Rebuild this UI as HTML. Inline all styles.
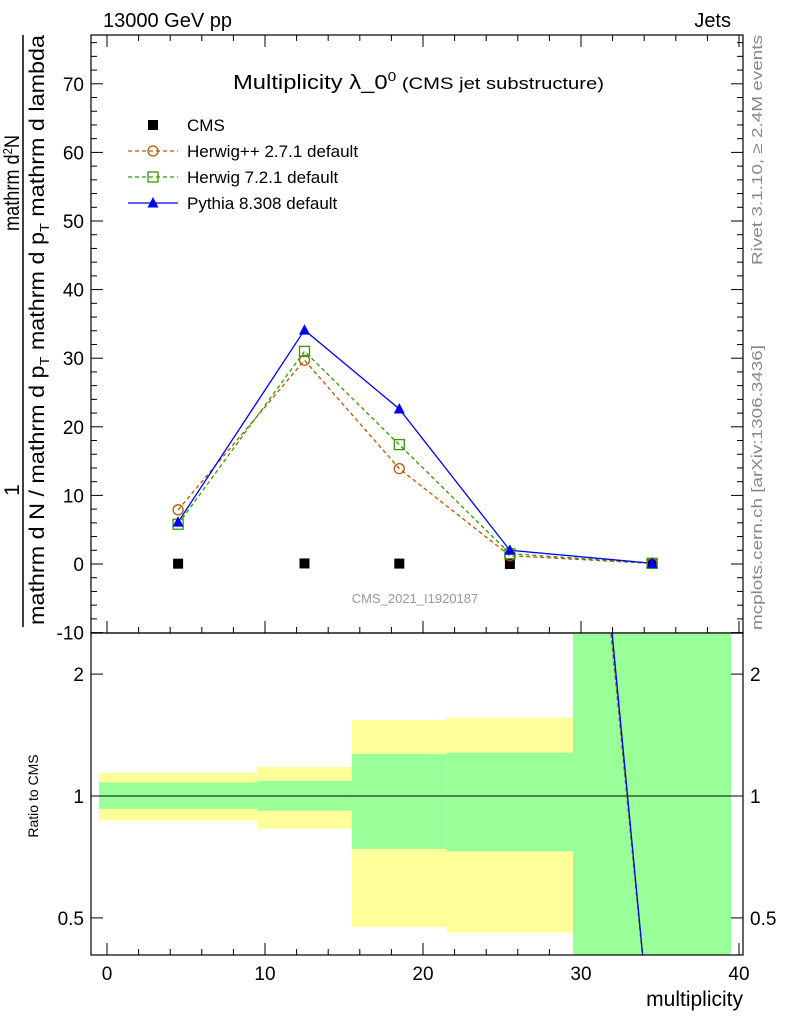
<!DOCTYPE html>
<html><head><meta charset="utf-8"><style>
html,body{margin:0;padding:0;background:#fff;overflow:hidden;}
svg{display:block;font-family:"Liberation Sans",sans-serif;}
</style></head><body>
<svg id="chart" width="786" height="1024" viewBox="0 0 786 1024" xmlns="http://www.w3.org/2000/svg">
<defs>
<clipPath id="cm"><rect x="91" y="35" width="652" height="598"/></clipPath>
<clipPath id="cr"><rect x="91" y="633" width="652" height="322"/></clipPath>
</defs>
<text x="103" y="27" font-size="20">13000 GeV pp</text>
<text x="731" y="27" font-size="20" text-anchor="end">Jets</text>
<g id="main"></g>
<g id="ratio"></g>
<text x="233" y="89" font-size="20" textLength="371" lengthAdjust="spacingAndGlyphs">Multiplicity λ_0<tspan font-size="13" dy="-8">0</tspan><tspan font-size="17" dy="8"> (CMS jet substructure)</tspan></text>
<text x="415" y="603" font-size="13" fill="#999" text-anchor="middle">CMS_2021_I1920187</text>
<g>
<text transform="translate(19,490) rotate(-90)" font-size="21" text-anchor="middle">1</text>
<text transform="translate(19,183) rotate(-90)" font-size="21" text-anchor="middle" textLength="96" lengthAdjust="spacingAndGlyphs">mathrm d<tspan font-size="13" dy="-7">2</tspan><tspan dy="7">N</tspan></text>
<line x1="23" y1="35" x2="23" y2="627" stroke="#000" stroke-width="1.5"/>
<text transform="translate(44,625) rotate(-90)" font-size="21" textLength="590" lengthAdjust="spacingAndGlyphs">mathrm d N / mathrm d p<tspan font-size="13" dy="5">T</tspan><tspan dy="-5"> mathrm d p</tspan><tspan font-size="13" dy="5">T</tspan><tspan dy="-5"> mathrm d lambda</tspan></text>
</g>
<text transform="translate(38,796) rotate(-90)" font-size="14" text-anchor="middle">Ratio to CMS</text>
<text x="743" y="1006" font-size="21" text-anchor="end">multiplicity</text>
<text transform="translate(762,265) rotate(-90)" font-size="15" fill="#888" textLength="230" lengthAdjust="spacingAndGlyphs">Rivet 3.1.10, ≥ 2.4M events</text>
<text transform="translate(762,630) rotate(-90)" font-size="15" fill="#888" textLength="285" lengthAdjust="spacingAndGlyphs">mcplots.cern.ch [arXiv:1306.3436]</text>
<script>
const binCenters=[4.5,12.5,18.5,25.5,34.5];
const binEdges=[-0.5,9.5,15.5,21.5,29.5,39.5];
const cmsVals=[0.05,0.08,0.06,0.002,0.05];
const herwigPPVals=[7.9,29.7,13.9,1.2,0.1];
const herwig7Vals=[5.8,31.0,17.4,1.5,0.1];
const pythiaVals=[6.1,34.1,22.6,2.0,0.1];
const herwigPPRatio=[160,380,230,900,0.23];
const herwig7Ratio=[120,390,290,1000,0.23];
const pythiaRatio=[125,430,380,1150,0.23];
const totLo=[0.87,0.83,0.475,0.46,0.1];
const totHi=[1.14,1.18,1.54,1.56,10];
const statLo=[0.93,0.92,0.74,0.73,0.1];
const statHi=[1.08,1.09,1.27,1.28,10];
const yTicks=[-10,0,10,20,30,40,50,60,70];
const xTicks=[0,10,20,30,40];
const rTicks=[0.5,1,2];

const NS="http://www.w3.org/2000/svg";
const X=v=>107+v*15.8;
const Y=v=>564-v*6.86;
const R=v=>796-Math.log10(v)*405;
function mk(tag,attrs,parent){const e=document.createElementNS(NS,tag);for(const k in attrs)e.setAttribute(k,attrs[k]);parent.appendChild(e);return e;}
const main=document.getElementById('main'), ratio=document.getElementById('ratio');

const bands=mk('g',{'clip-path':'url(#cr)'},ratio);
for(let i=0;i<5;i++){
 const a=mk('rect',{x:X(binEdges[i]),y:R(totHi[i]),width:X(binEdges[i+1])-X(binEdges[i]),height:R(totLo[i])-R(totHi[i]),fill:'#ffff99'},bands);
 
 
 const b=mk('rect',{x:X(binEdges[i]),y:R(statHi[i]),width:X(binEdges[i+1])-X(binEdges[i]),height:R(statLo[i])-R(statHi[i]),fill:'#99ff99'},bands);
 
 
}
mk('line',{x1:91,x2:743,y1:R(1),y2:R(1),stroke:'#000','stroke-width':1},ratio);
const rl=mk('g',{'clip-path':'url(#cr)'},ratio);
[[herwigPPRatio,'#b35900','4,3','ratio-line-herwigpp'],[herwig7Ratio,'#339900','4,3','ratio-line-herwig7'],[pythiaRatio,'#0000ee','','ratio-line-pythia']].forEach(s=>{
 const p=mk('polyline',{points:binCenters.map((c,i)=>X(c)+','+R(s[0][i])).join(' '),fill:'none',stroke:s[1],'stroke-width':1.3,'stroke-dasharray':s[2]},rl);
 
 
});

mk('rect',{x:91,y:35,width:652,height:598,fill:'none',stroke:'#000','stroke-width':1.2},main);
mk('rect',{x:91,y:633,width:652,height:322,fill:'none',stroke:'#000','stroke-width':1.2},ratio);

yTicks.forEach(t=>{
 const y=Y(t);
 mk('line',{x1:91,x2:103,y1:y,y2:y,stroke:'#000'},main);
 mk('line',{x1:731,x2:743,y1:y,y2:y,stroke:'#000'},main);
 for(let k=2;k<10;k+=2){const ym=Y(t+k);if(ym>35){mk('line',{x1:91,x2:97,y1:ym,y2:ym,stroke:'#000'},main);mk('line',{x1:737,x2:743,y1:ym,y2:ym,stroke:'#000'},main);}}
 const tx=mk('text',{x:84,y:y+7,'font-size':19,'text-anchor':'end'},main);tx.textContent=t;
 
 
});
xTicks.forEach(t=>{
 const x=X(t);
 [[633,621],[35,47],[955,943]].forEach(p=>mk('line',{x1:x,x2:x,y1:p[0],y2:p[1],stroke:'#000'},main));
 for(let k=2;k<10;k+=2){const xm=X(t+k);if(xm<743){[[633,627],[35,41],[955,949]].forEach(p=>mk('line',{x1:xm,x2:xm,y1:p[0],y2:p[1],stroke:'#000'},main));}}
 const tx=mk('text',{x:x,y:980,'font-size':19,'text-anchor':'middle'},main);tx.textContent=t;
 
 
});
rTicks.forEach(t=>{
 const y=R(t);
 mk('line',{x1:91,x2:103,y1:y,y2:y,stroke:'#000'},ratio);
 mk('line',{x1:731,x2:743,y1:y,y2:y,stroke:'#000'},ratio);
 const a=mk('text',{x:84,y:y+7,'font-size':19,'text-anchor':'end'},ratio);a.textContent=t;
 
 
 const b=mk('text',{x:750,y:y+7,'font-size':19},ratio);b.textContent=t;
 
 
});

const sg=mk('g',{'clip-path':'url(#cm)'},main);
function line(vals,col,dash,name){const p=mk('polyline',{points:binCenters.map((c,i)=>X(c)+','+Y(vals[i])).join(' '),fill:'none',stroke:col,'stroke-width':1.3,'stroke-dasharray':dash},sg);
 
 }
line(herwigPPVals,'#b35900','4,3','herwigpp-line');
line(herwig7Vals,'#339900','4,3','herwig7-line');
line(pythiaVals,'#0000ee','','pythia-line');
function circ(x,y,g){mk('circle',{cx:x,cy:y,r:5,fill:'none',stroke:'#b35900','stroke-width':1.3},g);}
function sq(x,y,g){mk('rect',{x:x-5,y:y-5,width:10,height:10,fill:'none',stroke:'#339900','stroke-width':1.3},g);}
function tri(x,y,g){mk('polygon',{points:`${x},${y-6} ${x-5.5},${y+4.5} ${x+5.5},${y+4.5}`,fill:'#0000ee'},g);}
function blk(x,y,g){mk('rect',{x:x-5,y:y-5,width:10,height:10,fill:'#000'},g);}
binCenters.forEach((c,i)=>{
 blk(X(c),Y(cmsVals[i]),sg);circ(X(c),Y(herwigPPVals[i]),sg);sq(X(c),Y(herwig7Vals[i]),sg);tri(X(c),Y(pythiaVals[i]),sg);
});

const lg=mk('g',{},main);


const items=[['CMS',blk,null,''],['Herwig++ 2.7.1 default',circ,'#b35900','4,3'],['Herwig 7.2.1 default',sq,'#339900','4,3'],['Pythia 8.308 default',tri,'#0000ee','']];
items.forEach((it,i)=>{
 const y=125+i*26;
 if(it[2])mk('line',{x1:128,x2:178,y1:y,y2:y,stroke:it[2],'stroke-width':1.3,'stroke-dasharray':it[3]},lg);
 it[1](153,y,lg);
 const t=mk('text',{x:187,y:y+6,'font-size':17},lg);t.textContent=it[0];
 
 
});
</script>
</svg>
</body></html>
